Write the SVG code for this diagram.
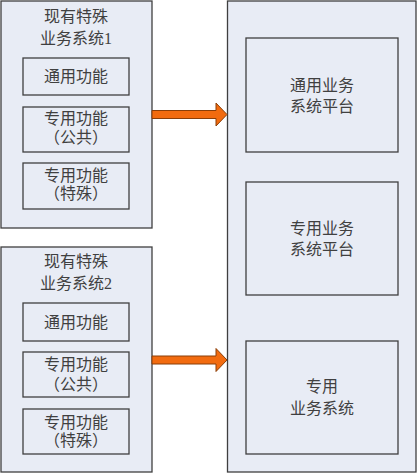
<svg xmlns="http://www.w3.org/2000/svg" width="417" height="474" viewBox="0 0 417 474">
<style>
.box{fill:#E8ECF5;stroke:#3F3F3F;stroke-width:1.3}
.t{font-family:"Liberation Serif","Noto Sans CJK SC",serif;font-size:16px;fill:#404040;text-anchor:middle}
.arr{fill:#F26B0F;stroke:#8A3E08;stroke-width:1}
</style>
<rect width="417" height="474" fill="#FFFFFF"/>
<g id="sys1">
<rect class="box" x="1" y="1" width="151" height="227"/>
<text class="t" x="76" y="22">现有特殊</text>
<text class="t" x="76" y="44">业务系统1</text>
</g>
<g id="sys1-common"><rect class="box" x="23" y="58" width="106" height="37"/><text class="t" x="76" y="82">通用功能</text></g>
<g id="sys1-public"><rect class="box" x="23" y="107" width="106" height="45"/><text class="t" x="76" y="124">专用功能</text><text class="t" x="76" y="143">（公共）</text></g>
<g id="sys1-special"><rect class="box" x="23" y="163" width="106" height="46"/><text class="t" x="76" y="181">专用功能</text><text class="t" x="76" y="199">（特殊）</text></g>
<g id="sys2">
<rect class="box" x="1" y="247" width="151" height="225"/>
<text class="t" x="76" y="267">现有特殊</text>
<text class="t" x="76" y="289">业务系统2</text>
</g>
<g id="sys2-common"><rect class="box" x="23" y="303" width="106" height="38"/><text class="t" x="76" y="328">通用功能</text></g>
<g id="sys2-public"><rect class="box" x="23" y="352" width="106" height="45"/><text class="t" x="76" y="370">专用功能</text><text class="t" x="76" y="390">（公共）</text></g>
<g id="sys2-special"><rect class="box" x="23" y="409" width="106" height="45"/><text class="t" x="76" y="428">专用功能</text><text class="t" x="76" y="446">（特殊）</text></g>
<g id="target">
<rect class="box" x="227.5" y="1" width="188.5" height="471"/>
</g>
<g id="platform"><rect class="box" x="246" y="38" width="152" height="114"/><text class="t" x="322" y="91">通用业务</text><text class="t" x="322" y="112">系统平台</text></g>
<g id="special-platform"><rect class="box" x="246" y="182" width="152" height="113"/><text class="t" x="322" y="234">专用业务</text><text class="t" x="322" y="255">系统平台</text></g>
<g id="special-system"><rect class="box" x="246" y="341" width="152" height="113"/><text class="t" x="322" y="392">专用</text><text class="t" x="322" y="414">业务系统</text></g>
<g id="connectors">
<path class="arr" d="M152,110.5 H216 V103 L227,114.5 L216,126 V118.5 H152 Z"/>
<path class="arr" d="M152,356 H216 V348.5 L227,360 L216,371.5 V364 H152 Z"/>
</g>
</svg>
